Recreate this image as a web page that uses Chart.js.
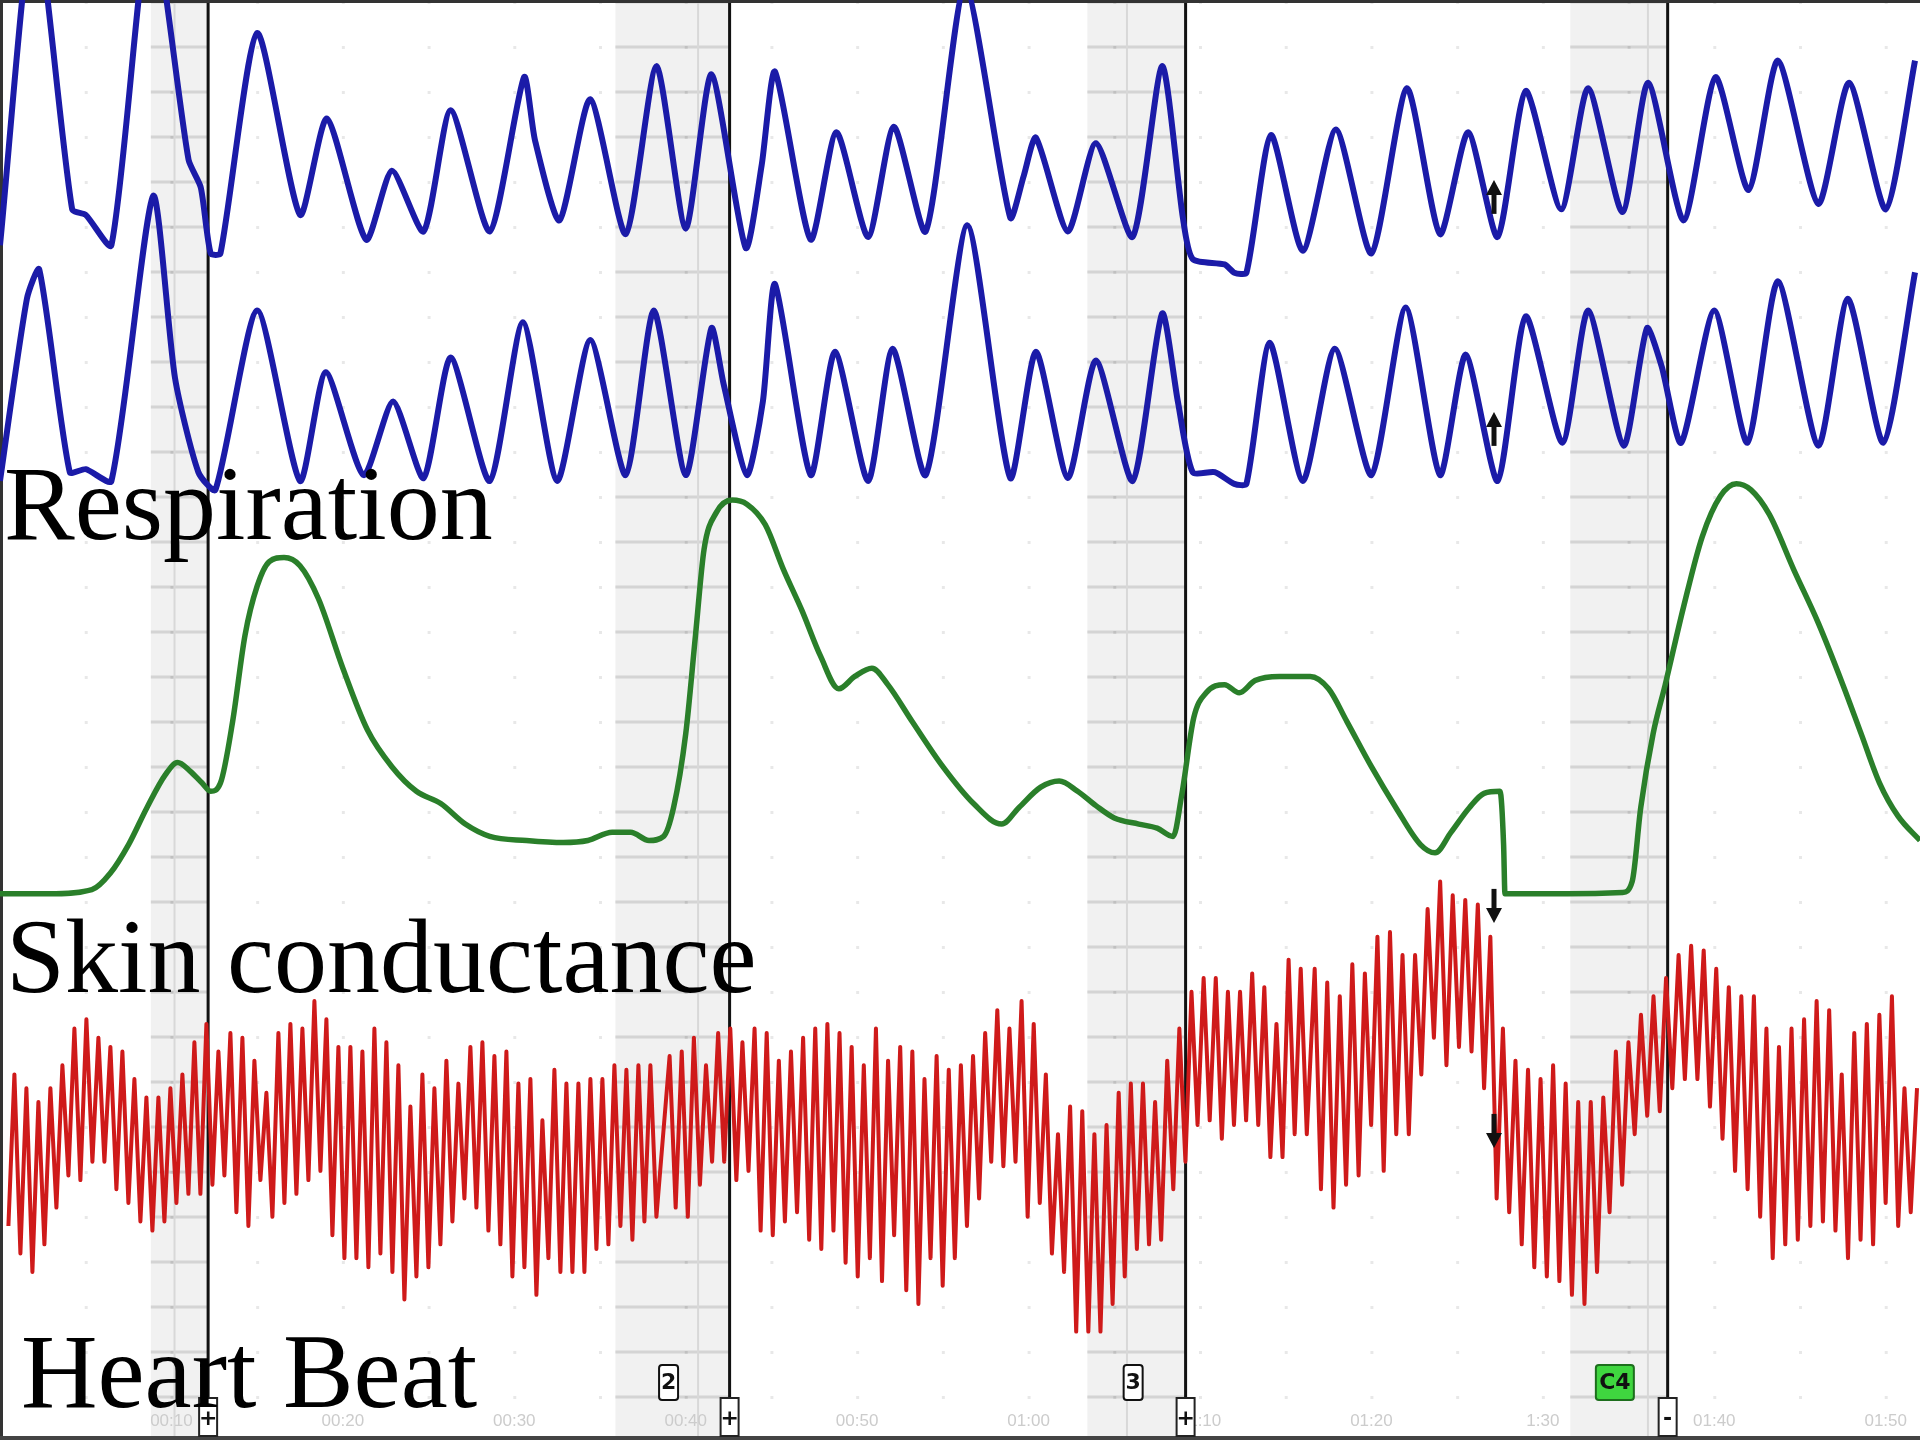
<!DOCTYPE html>
<html>
<head>
<meta charset="utf-8">
<title>Polygraph chart</title>
<script src="https://cdn.jsdelivr.net/npm/chart.js@4.4.1/dist/chart.umd.min.js"></script>
<style>
  html, body { margin: 0; padding: 0; background: #fff; }
  #wrap { width: 1920px; height: 1440px; position: relative; }
</style>
</head>
<body>
<div id="wrap"><canvas id="chart_poly" width="1920" height="1440"></canvas></div>
<script>
// DATA
// time is in seconds from the left edge of the strip, values are pen
// deflection per channel (0 = bottom of the channel band, 100 = top)

// time axis
const timeTicks = [10, 20, 30, 40, 50, 60, 70, 80, 90, 100, 110];
const timeLabels = ['00:10', '00:20', '00:30', '00:40', '00:50', '01:00', '01:10', '01:20', '1:30', '01:40', '01:50'];

// question zones
const zoneStart = [8.8, 35.9, 63.43, 91.6];
const zoneEnd = [12.14, 42.56, 69.16, 97.28];
const zoneInner = [10.18, 40.72, 65.74, 96.13];
const markTime = [12.14, 42.56, 69.16, 97.28];
const markSign = ['+', '+', '+', '-'];
const questionTime = [39.0, 66.1, 94.2];
const questionLabel = ['2', '3', 'C4'];

// artifact arrows
const arrowTime = [87.15, 87.15, 87.15, 87.15];
const arrowAxis = ['yR1', 'yR2', 'yHB', 'yHB'];
const arrowValue = [34.7, 26.5, 91, 42];
const arrowDir = [-1, -1, 1, 1];

// RESPIRATION (upper)
const resp1Time = [0, 2.0, 4.21, 5.0, 6.5, 8.79, 11.0, 11.71, 12.29, 12.86, 15.0, 17.5, 19.07, 21.36, 22.86, 24.71,
  26.29, 28.57, 30.57, 31.21, 32.64, 34.43, 36.5, 38.29, 40.0, 41.5, 43.5, 44.43, 45.21, 47.29, 48.79, 50.64,
  52.14, 54.0, 56.29, 58.93, 59.71, 60.43, 62.29, 63.93, 66.07, 67.79, 69.0, 69.57, 71.43, 72.0, 72.71, 74.14,
  76.0, 77.93, 80.0, 82.07, 84.0, 85.64, 87.36, 89.0, 91.07, 92.64, 94.64, 96.14, 98.21, 100.07, 102.0, 103.71,
  106.07, 107.86, 110.0, 111.71];
const resp1Value = [11, 130, 24, 22, 11, 130, 42, 32, 8, 8, 88, 22, 57, 13, 38, 16,
  60, 16, 72, 49, 20, 64, 15, 76, 17, 73, 10, 40, 74, 13, 52, 14,
  54, 16, 105, 21, 36, 50, 16, 48, 14, 76, 21, 6, 4, 1, 1, 51,
  9, 53, 8, 68, 15, 52, 14, 67, 24, 68, 23, 70, 20, 72, 31, 78,
  26, 70, 24, 78];

// RESPIRATION (lower)
const resp2Time = [0, 1.57, 2.29, 4.07, 5.0, 6.5, 8.93, 10.21, 11.57, 12.57, 15.0, 17.5, 19.0, 21.21, 22.93, 24.71,
  26.29, 28.57, 30.5, 32.5, 34.43, 36.5, 38.14, 40.0, 41.5, 42.21, 43.57, 44.5, 45.21, 47.29, 48.71, 50.64,
  52.07, 54.0, 56.43, 58.93, 60.43, 62.29, 63.93, 66.07, 67.79, 68.71, 69.57, 70.86, 72.0, 72.71, 74.07, 76.0,
  77.86, 80.0, 82.0, 84.0, 85.5, 87.36, 89.0, 91.14, 92.64, 94.71, 96.07, 96.93, 98.07, 100.0, 101.93, 103.71,
  106.07, 107.79, 109.86, 111.71];
const resp2Value = [3, 65, 75, 6, 7, 3, 100, 38, 6, 0, 61, 3, 40, 5, 30, 4,
  45, 3, 57, 3, 51, 5, 61, 5, 55, 36, 5, 30, 70, 5, 47, 3,
  48, 5, 90, 4, 47, 4, 44, 3, 60, 30, 6, 6, 2, 2, 50, 3,
  48, 5, 62, 5, 46, 3, 59, 16, 61, 15, 55, 42, 16, 61, 16, 71,
  15, 65, 16, 74];

// SKIN CONDUCTANCE
const edaTime = [0, 2.86, 5.36, 6.43, 7.5, 8.57, 9.64, 10.36, 11.07, 11.79, 12.29, 12.86, 13.57, 14.29, 15.0, 15.71,
  16.57, 17.5, 18.57, 20.0, 21.43, 22.86, 24.29, 25.71, 27.14, 28.57, 30.71, 32.86, 34.29, 35.71, 36.79, 37.86,
  38.71, 39.29, 40.0, 40.57, 41.07, 41.79, 42.71, 43.57, 44.64, 45.71, 46.79, 47.86, 48.93, 49.86, 50.86, 51.79,
  53.21, 55.0, 56.79, 58.43, 59.43, 60.71, 61.79, 62.86, 63.93, 65.0, 66.43, 67.5, 68.43, 68.93, 69.64, 70.36,
  71.43, 72.29, 73.21, 74.64, 76.43, 77.5, 78.57, 80.0, 81.43, 82.86, 83.71, 84.64, 85.71, 86.57, 87.5, 87.71,
  87.79, 88.57, 91.43, 94.64, 95.21, 95.71, 96.43, 97.14, 98.21, 99.29, 100.36, 101.29, 102.14, 103.21, 104.64, 106.07,
  107.5, 108.57, 109.64, 110.71, 112];
const edaValue = [0, 0, 1, 5, 12, 21, 29, 32, 30, 27, 25, 27, 42, 63, 75, 81,
  82, 80, 72, 55, 40, 31, 25, 22, 17, 14, 13, 12.5, 13, 15, 15, 13,
  14, 21, 39, 63, 84, 93, 96, 95, 90, 79, 69, 58, 50, 53, 55, 51,
  42, 31, 22, 17, 21, 26, 27.5, 25, 21.5, 18.5, 17, 16, 14, 24, 43, 49,
  51, 49, 52, 53, 53, 50, 42, 31, 21, 12, 10, 15, 21, 24.5, 25, 12,
  0, 0, 0, 0.3, 3, 21, 39, 51, 70, 87, 97, 100, 98.5, 92.5, 79, 66,
  51, 39, 27, 19, 13];

// HEART BEAT (alternating troughs and peaks, one pair per beat)
const heartSegStart = [0.49, 39.06, 76.69];
const heartSegStep = [0.35, 0.354, 0.366];
const heartSeg1 = [25, 58, 19, 55, 15, 52, 21, 55, 29, 60, 36, 68, 35, 70, 39, 66, 39, 64, 33, 63, 30, 57, 26, 53,
  24, 53, 26, 55, 30, 58, 32, 65, 32, 69, 34, 63, 36, 67, 28, 66, 25, 61, 35, 54, 27, 67, 30, 69, 32, 68, 35, 74,
  37, 70, 23, 64, 18, 64, 18, 63, 16, 68, 19, 65, 15, 60, 9, 51, 14, 58, 16, 55, 21, 61, 26, 56, 31, 64, 29, 65,
  24, 62, 21, 63, 14, 56, 16, 57, 10, 48, 18, 59, 15, 56, 15, 56, 15, 57, 20, 57, 21, 60, 25, 59, 22, 60, 26, 60, 27];
const heartSeg2 = [62, 29, 63, 27, 66, 34, 60, 39, 67, 39, 68, 35, 65, 37, 68, 24, 67, 23, 61, 26,
  63, 28, 66, 22, 68, 20, 69, 24, 67, 17, 64, 14, 60, 18, 68, 13, 61, 23, 64, 11,
  63, 8, 57, 18, 62, 12, 59, 18, 60, 25, 62, 31, 67, 39, 72, 38, 68, 39, 74, 27,
  69, 30, 58, 19, 45, 15, 51, 2, 50, 2, 45, 2, 47, 8, 54, 14, 56, 20, 56, 21,
  52, 22, 61, 33, 68, 39, 76, 47, 79, 48, 79, 44, 76, 47, 76, 48, 80, 47, 77, 40,
  69, 40, 83, 45, 81, 45];
const heartSeg3 = [81, 33, 78, 29, 75, 34, 82, 36, 80, 47, 88, 37, 89, 45, 84, 45, 84, 58, 94, 66, 100, 60, 97, 64,
  96, 63, 95, 55, 88, 31, 68, 28, 61, 21, 59, 16, 57, 14, 60, 13, 56, 10, 52, 8, 52, 15, 53, 28, 63, 34, 65, 45,
  71, 49, 75, 50, 79, 55, 84, 57, 86, 57, 85, 51, 81, 44, 77, 37, 75, 33, 75, 27, 68, 18, 64, 21, 68, 22, 70, 25,
  74, 26, 72, 24, 58, 18, 67, 22, 69, 21, 71, 30, 75, 25, 55, 28, 55];


// BUILD
function pairs(times, values) {
    return values.map(function(v, i) { return {x: times[i], y: v}; });
}
const heartSegs = [heartSeg1, heartSeg2, heartSeg3];
let heartPoints = [];
heartSegs.forEach(function(seg, s) {
    seg.forEach(function(v, i) {
        heartPoints.push({x: heartSegStart[s] + i * heartSegStep[s], y: v});
    });
});

// value 100 at topFrac and 0 at bottomFrac of the canvas height
function band(topFrac, bottomFrac) {
    const range = 100 / (bottomFrac - topFrac);
    const max = 100 + topFrac * range;
    return {type: 'linear', display: false, min: max - range, max: max};
}


// PLUGIN: paper, zones, markers, titles
const stripPlugin = {
    id: 'strip',
    beforeDatasetsDraw(chart) {
        const ctx = chart.ctx;
        const a = chart.chartArea;
        const x = chart.scales.x;
        ctx.save();
        ctx.fillStyle = '#ffffff';
        ctx.fillRect(0, 0, chart.width, chart.height);

        // question zones
        for (let i = 0; i < zoneStart.length; i++) {
            const x0 = x.getPixelForValue(zoneStart[i]);
            const x1 = x.getPixelForValue(zoneEnd[i]);
            ctx.fillStyle = '#f1f1f1';
            ctx.fillRect(x0, a.top, x1 - x0, a.bottom - a.top);
            ctx.strokeStyle = '#d4d4d4';
            ctx.lineWidth = 3;
            for (let y = 2; y < a.bottom; y += 45) {
                ctx.beginPath();
                ctx.moveTo(x0, y);
                ctx.lineTo(x1, y);
                ctx.stroke();
            }
            const xi = x.getPixelForValue(zoneInner[i]);
            ctx.strokeStyle = '#d8d8d8';
            ctx.lineWidth = 2;
            ctx.beginPath();
            ctx.moveTo(xi, a.top);
            ctx.lineTo(xi, a.bottom);
            ctx.stroke();
        }

        // faint grid dots
        ctx.fillStyle = 'rgba(0,0,0,0.09)';
        for (let t = 5; t < 112; t += 5) {
            const px = x.getPixelForValue(t);
            for (let y = 2; y < a.bottom; y += 45) {
                ctx.fillRect(px - 1, y - 1, 3, 3);
            }
        }

        // response marks
        ctx.strokeStyle = '#111';
        ctx.lineWidth = 3;
        markTime.forEach(function(t) {
            const px = x.getPixelForValue(t);
            ctx.beginPath();
            ctx.moveTo(px, 0);
            ctx.lineTo(px, chart.height);
            ctx.stroke();
        });

        // frame
        ctx.fillStyle = '#333';
        ctx.fillRect(0, 0, chart.width, 3);
        ctx.fillRect(0, 0, 3, chart.height);
        ctx.fillStyle = '#444';
        ctx.fillRect(0, chart.height - 4, chart.width, 4);
        ctx.restore();
    },
    afterDatasetsDraw(chart) {
        const ctx = chart.ctx;
        const x = chart.scales.x;
        ctx.save();

        // arrows
        ctx.fillStyle = '#111';
        ctx.strokeStyle = '#111';
        for (let i = 0; i < arrowTime.length; i++) {
            const px = x.getPixelForValue(arrowTime[i]);
            const tip = chart.scales[arrowAxis[i]].getPixelForValue(arrowValue[i]);
            const d = arrowDir[i];
            ctx.lineWidth = 5;
            ctx.beginPath();
            ctx.moveTo(px, tip - d * 34);
            ctx.lineTo(px, tip - d * 10);
            ctx.stroke();
            ctx.beginPath();
            ctx.moveTo(px, tip);
            ctx.lineTo(px - 8, tip - d * 15);
            ctx.lineTo(px + 8, tip - d * 15);
            ctx.closePath();
            ctx.fill();
        }

        // time labels
        ctx.fillStyle = '#cccccc';
        ctx.font = '17px "Liberation Sans"';
        ctx.textAlign = 'center';
        ctx.textBaseline = 'middle';
        timeTicks.forEach(function(t, i) {
            ctx.fillText(timeLabels[i], x.getPixelForValue(t), 1421);
        });

        // +/- boxes
        markTime.forEach(function(t, i) {
            const px = x.getPixelForValue(t);
            ctx.fillStyle = '#fff';
            ctx.fillRect(px - 9, 1398, 18, 38);
            ctx.strokeStyle = '#222';
            ctx.lineWidth = 2;
            ctx.strokeRect(px - 9, 1398, 18, 38);
            ctx.fillStyle = '#111';
            ctx.font = 'bold 22px "DejaVu Sans"';
            ctx.fillText(markSign[i], px, 1419);
        });

        // question numbers
        questionTime.forEach(function(t, i) {
            const px = x.getPixelForValue(t);
            const w = questionLabel[i].length > 1 ? 38 : 19;
            ctx.beginPath();
            ctx.roundRect(px - w / 2, 1365, w, 35, 3);
            ctx.fillStyle = questionLabel[i] === 'C4' ? '#3fd63f' : '#fff';
            ctx.fill();
            ctx.strokeStyle = questionLabel[i] === 'C4' ? '#1d6e1d' : '#111';
            ctx.lineWidth = 2;
            ctx.stroke();
            ctx.fillStyle = '#111';
            ctx.font = 'bold 22px "DejaVu Sans"';
            ctx.fillText(questionLabel[i], px, 1383);
        });

        // channel titles
        ctx.fillStyle = '#000';
        ctx.textAlign = 'left';
        ctx.textBaseline = 'alphabetic';
        ctx.font = '106px "Liberation Serif"';
        ctx.fillText('Respiration', 4, 539);
        ctx.fillText('Skin conductance', 6, 992);
        ctx.fillText('Heart Beat', 21, 1407);
        ctx.restore();
    }
};


// CHART
const ctx_poly = document.getElementById('chart_poly');

const chart_poly = new Chart(ctx_poly, {
type: 'line',
data: {
datasets: [{
    label: 'Respiration (upper)',
    data: pairs(resp1Time, resp1Value),
    yAxisID: 'yR1',
    borderColor: '#1b1ba8',
    borderWidth: 6,
    tension: 0.22,
}, {
    label: 'Respiration (lower)',
    data: pairs(resp2Time, resp2Value),
    yAxisID: 'yR2',
    borderColor: '#1b1ba8',
    borderWidth: 6,
    tension: 0.22,
}, {
    label: 'Skin conductance',
    data: pairs(edaTime, edaValue),
    yAxisID: 'yEDA',
    borderColor: '#2a7f2a',
    borderWidth: 5.5,
    cubicInterpolationMode: 'monotone',
}, {
    label: 'Heart Beat',
    data: heartPoints,
    yAxisID: 'yHB',
    borderColor: '#cf1a1a',
    borderWidth: 4,
    tension: 0,
}]
},
options: {
  responsive: false,
  animation: false,
  devicePixelRatio: 1,
  layout: { padding: 0 },
  elements: { point: { radius: 0 }, line: { borderJoinStyle: 'round' } },
  scales: {
    x: { type: 'linear', display: false, min: 0, max: 112 },
    yR1: band(0, 0.1913),
    yR2: band(0.1361, 0.3401),
    yEDA: band(0.3359, 0.6207),
    yHB: band(0.6122, 0.9311)
  },
  plugins: {
    legend: { display: false },
    tooltip: { enabled: false }
  }
},
plugins: [stripPlugin]
});
</script>
</body>
</html>
